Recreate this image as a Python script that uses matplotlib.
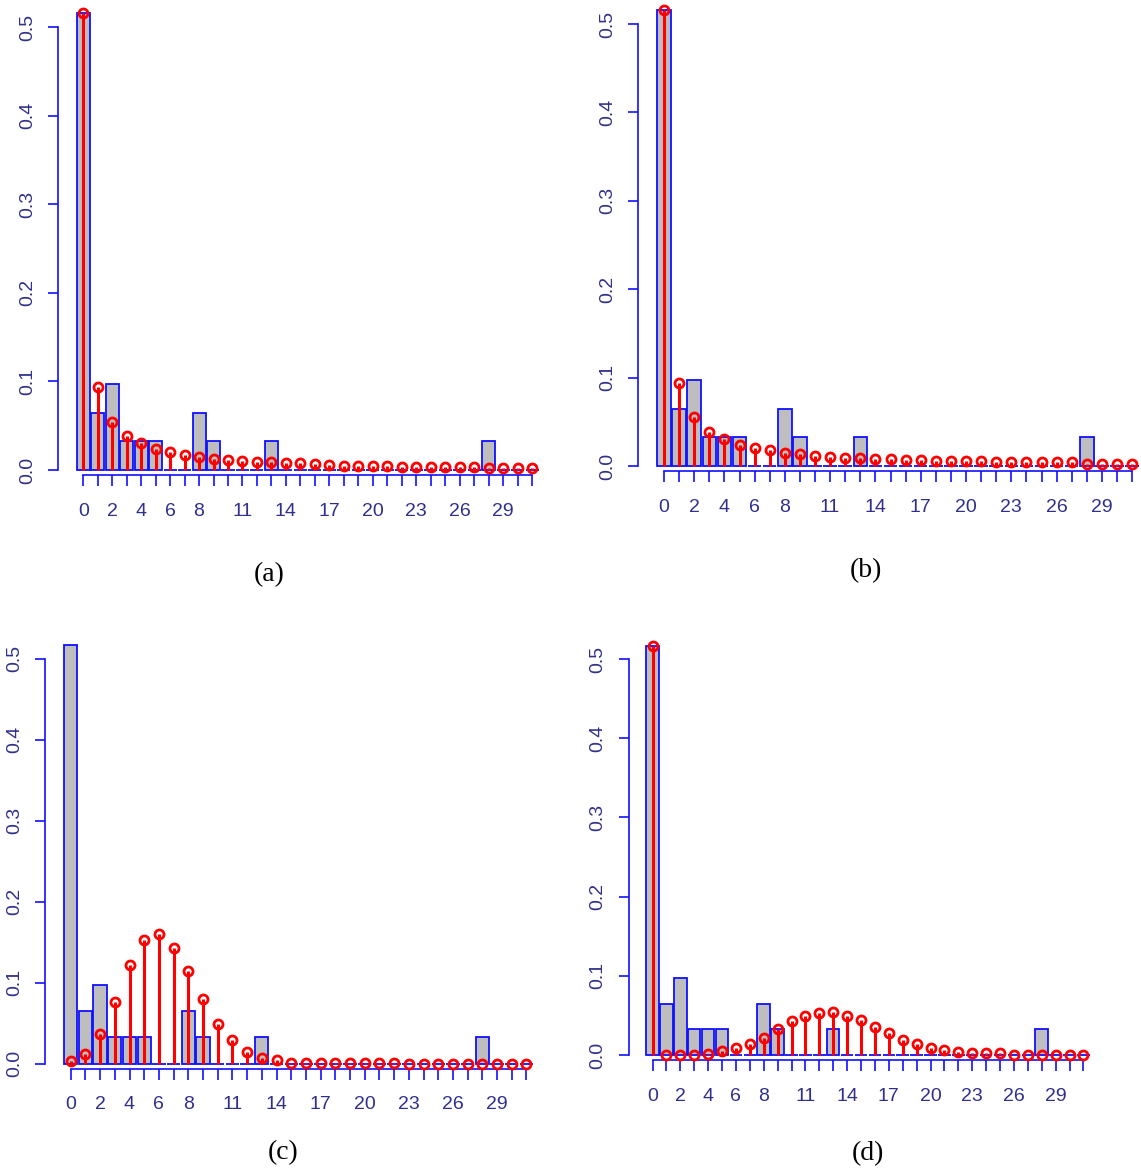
import matplotlib
matplotlib.use("Agg")
import matplotlib.pyplot as plt
import numpy as np

# observed relative frequencies (same sample in every panel)
counts_x = np.arange(32)
observed = np.zeros(32)
observed[[0, 1, 2, 3, 4, 5, 8, 9, 13, 28]] = [16, 2, 3, 1, 1, 1, 2, 1, 1, 1]
observed = observed / 31

# fitted probabilities for each model
fit_a = [0.516, 0.094, 0.054, 0.038, 0.030, 0.024, 0.020, 0.017, 0.0145, 0.0125,
         0.0114, 0.0103, 0.0092, 0.0090, 0.0078, 0.0076, 0.0066, 0.0062, 0.0050, 0.0049,
         0.0048, 0.0046, 0.0032, 0.0031, 0.0031, 0.0030, 0.0030, 0.0030, 0.0023, 0.0023,
         0.0023, 0.0023]
fit_b = [0.516, 0.094, 0.055, 0.039, 0.030, 0.024, 0.020, 0.018, 0.0144, 0.0133,
         0.0114, 0.0103, 0.0095, 0.0095, 0.0080, 0.0080, 0.0068, 0.0068, 0.0057, 0.0057,
         0.0057, 0.0057, 0.0046, 0.0046, 0.0046, 0.0046, 0.0050, 0.0050, 0.0023, 0.0020,
         0.0020, 0.0020]
fit_c = [0.0025, 0.0123, 0.037, 0.0765, 0.122, 0.153, 0.160, 0.143, 0.1136, 0.0794,
         0.049, 0.0284, 0.0148, 0.0066, 0.0041, 0.0012, 0.0012, 0.0003, 0.0002, 0.0001,
         0.0001, 0.0001, 0.0001, 0.0, 0.0, 0.0, 0.0, 0.0, 0.0, 0.0,
         0.0, 0.0]
fit_d = [0.516, 0.0003, 0.0003, 0.0004, 0.0017, 0.005, 0.0084, 0.0143, 0.022, 0.0325,
         0.0426, 0.0498, 0.0536, 0.054, 0.0498, 0.0439, 0.0359, 0.0278, 0.0194, 0.0143,
         0.0084, 0.0063, 0.0034, 0.0021, 0.0021, 0.0021, 0.0003, 0.0003, 0.0003, 0.0003,
         0.0003, 0.0003]

x_labels = {0: "0", 2: "2", 4: "4", 6: "6", 8: "8", 11: "11", 14: "14",
            17: "17", 20: "20", 23: "23", 26: "26", 29: "29"}
y_ticks = [0.0, 0.1, 0.2, 0.3, 0.4, 0.5]
captions = ["(a)", "(b)", "(c)", "(d)"]

W, H = 1141, 1174
AXIS_BLUE = "#1010ff"
LABEL_COL = "#30308c"

fig = plt.figure(figsize=(W / 100, H / 100), dpi=100)
fig.patch.set_facecolor("white")

# pixel origin of x=0 / y=0 and pixels per unit for each panel
panels = [
    dict(x0=83.2, dx=14.48, y0=470.0, dy=886.0, fit=fit_a, cap_xy=(269, 575)),
    dict(x0=664.0, dx=15.1, y0=466.0, dy=884.0, fit=fit_b, cap_xy=(866, 571)),
    dict(x0=70.7, dx=14.7, y0=1063.5, dy=810.0, fit=fit_c, cap_xy=(283, 1153)),
    dict(x0=652.5, dx=13.9, y0=1055.0, dy=792.0, fit=fit_d, cap_xy=(868, 1154)),
]

xlim = (-2.6, 32.0)
ylim = (-0.075, 0.525)
yaxis_at = -1.72
xaxis_at = -0.0062

for p, caption in zip(panels, captions):
    left = p["x0"] + xlim[0] * p["dx"]
    right = p["x0"] + xlim[1] * p["dx"]
    top = p["y0"] - ylim[1] * p["dy"]
    bottom = p["y0"] - ylim[0] * p["dy"]
    ax = fig.add_axes([left / W, 1 - bottom / H, (right - left) / W, (bottom - top) / H])
    ax.set_xlim(xlim)
    ax.set_ylim(ylim)
    ax.patch.set_visible(False)

    ax.bar(counts_x, observed, width=0.9, color="#bebebe",
           edgecolor=AXIS_BLUE, linewidth=1.3, zorder=2)
    ax.vlines(counts_x, 0, p["fit"], color="red", linewidth=2.2, zorder=3)
    ax.plot(counts_x, p["fit"], "o", ms=6.5, mfc="none", mec="red",
            mew=2.0, zorder=4, clip_on=False)

    for side in ("top", "right"):
        ax.spines[side].set_visible(False)
    ax.spines["left"].set_position(("data", yaxis_at))
    ax.spines["left"].set_bounds(0, 0.5)
    ax.spines["bottom"].set_position(("data", xaxis_at))
    ax.spines["bottom"].set_bounds(0, 31)
    for side in ("left", "bottom"):
        ax.spines[side].set_color(AXIS_BLUE)
        ax.spines[side].set_linewidth(1.2)

    ax.set_xticks(counts_x)
    ax.set_xticklabels([x_labels.get(i, "") for i in counts_x])
    ax.set_yticks(y_ticks)
    ax.set_yticklabels([f"{v:.1f}" for v in y_ticks], rotation=90, va="center")
    ax.tick_params(axis="x", length=8, width=1.2, color=AXIS_BLUE, pad=12,
                   labelsize=14, labelcolor=LABEL_COL)
    ax.tick_params(axis="y", length=7, width=1.2, color=AXIS_BLUE, pad=9,
                   labelsize=14, labelcolor=LABEL_COL)
    for lab in ax.get_xticklabels() + ax.get_yticklabels():
        lab.set_fontfamily("Liberation Sans")

    cx, cy = p["cap_xy"]
    fig.text(cx / W, 1 - cy / H, caption, ha="center", va="center",
             fontsize=20, family="Liberation Serif")

fig.savefig("out.png", dpi=100)
